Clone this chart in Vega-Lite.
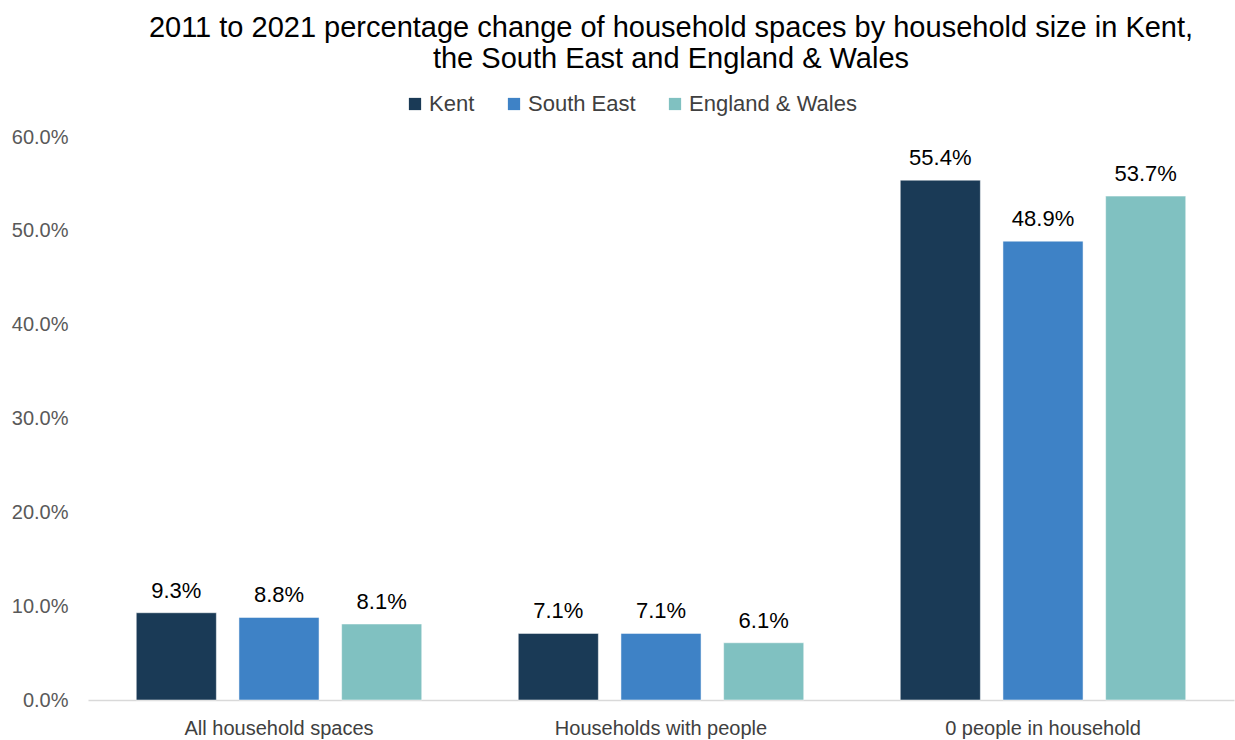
{
  "$schema": "https://vega.github.io/schema/vega-lite/v6.json",
  "width": 1146,
  "height": 563,
  "autosize": {"type": "none"},
  "padding": {"left": 88, "top": 137, "right": 1, "bottom": 40},
  "background": "white",
  "config": {
    "font": "Liberation Sans",
    "view": {"stroke": null}
  },
  "title": {
    "text": ["2011 to 2021 percentage change of household spaces by household size in Kent,", "the South East and England & Wales"],
    "fontSize": 29,
    "fontWeight": "normal",
    "color": "#000000",
    "lineHeight": 31,
    "anchor": "middle",
    "dx": 10,
    "offset": 19
  },
  "data": {
    "values": [
      {"category": "All household spaces", "area": "Kent", "change": 0.093},
      {"category": "All household spaces", "area": "South East", "change": 0.088},
      {"category": "All household spaces", "area": "England & Wales", "change": 0.081},
      {"category": "Households with people", "area": "Kent", "change": 0.071},
      {"category": "Households with people", "area": "South East", "change": 0.071},
      {"category": "Households with people", "area": "England & Wales", "change": 0.061},
      {"category": "0 people in household", "area": "Kent", "change": 0.554},
      {"category": "0 people in household", "area": "South East", "change": 0.489},
      {"category": "0 people in household", "area": "England & Wales", "change": 0.537}
    ]
  },
  "encoding": {
    "x": {
      "field": "category",
      "type": "nominal",
      "sort": null,
      "scale": {"paddingInner": 0, "paddingOuter": 0},
      "axis": {
        "title": null,
        "labelAngle": 0,
        "labelFontSize": 20,
        "labelColor": "#404040",
        "labelPadding": 18,
        "labelLimit": 0,
        "ticks": false,
        "domainColor": "#d9d9d9",
        "domainWidth": 1.5
      }
    },
    "xOffset": {
      "field": "area",
      "type": "nominal",
      "sort": ["Kent", "South East", "England & Wales"],
      "scale": {"paddingInner": 0.22, "paddingOuter": 0.47}
    },
    "y": {
      "field": "change",
      "type": "quantitative",
      "scale": {"domain": [0, 0.6], "nice": false},
      "axis": {
        "title": null,
        "format": ".1%",
        "values": [0, 0.1, 0.2, 0.3, 0.4, 0.5, 0.6],
        "grid": false,
        "domain": false,
        "ticks": false,
        "labelFontSize": 20,
        "labelColor": "#595959",
        "labelPadding": 20
      }
    }
  },
  "layer": [
    {
      "mark": {"type": "bar", "stroke": "#ffffff", "strokeWidth": 0.5},
      "encoding": {
        "color": {
          "field": "area",
          "type": "nominal",
          "sort": ["Kent", "South East", "England & Wales"],
          "scale": {"domain": ["Kent", "South East", "England & Wales"], "range": ["#1a3a56", "#3e82c6", "#80c1c1"]},
          "legend": {
            "title": null,
            "orient": "none",
            "direction": "horizontal",
            "legendX": 316,
            "legendY": -44,
            "symbolType": "square",
            "symbolSize": 150,
            "symbolStrokeWidth": 0,
            "labelFontSize": 22,
            "labelLimit": 0,
            "labelColor": "#404040",
            "labelOffset": 3,
            "columnPadding": 28
          }
        }
      }
    },
    {
      "mark": {"type": "text", "dy": -10, "fontSize": 22, "color": "#000000", "baseline": "bottom"},
      "encoding": {
        "text": {"field": "change", "type": "quantitative", "format": ".1%"}
      }
    }
  ]
}
